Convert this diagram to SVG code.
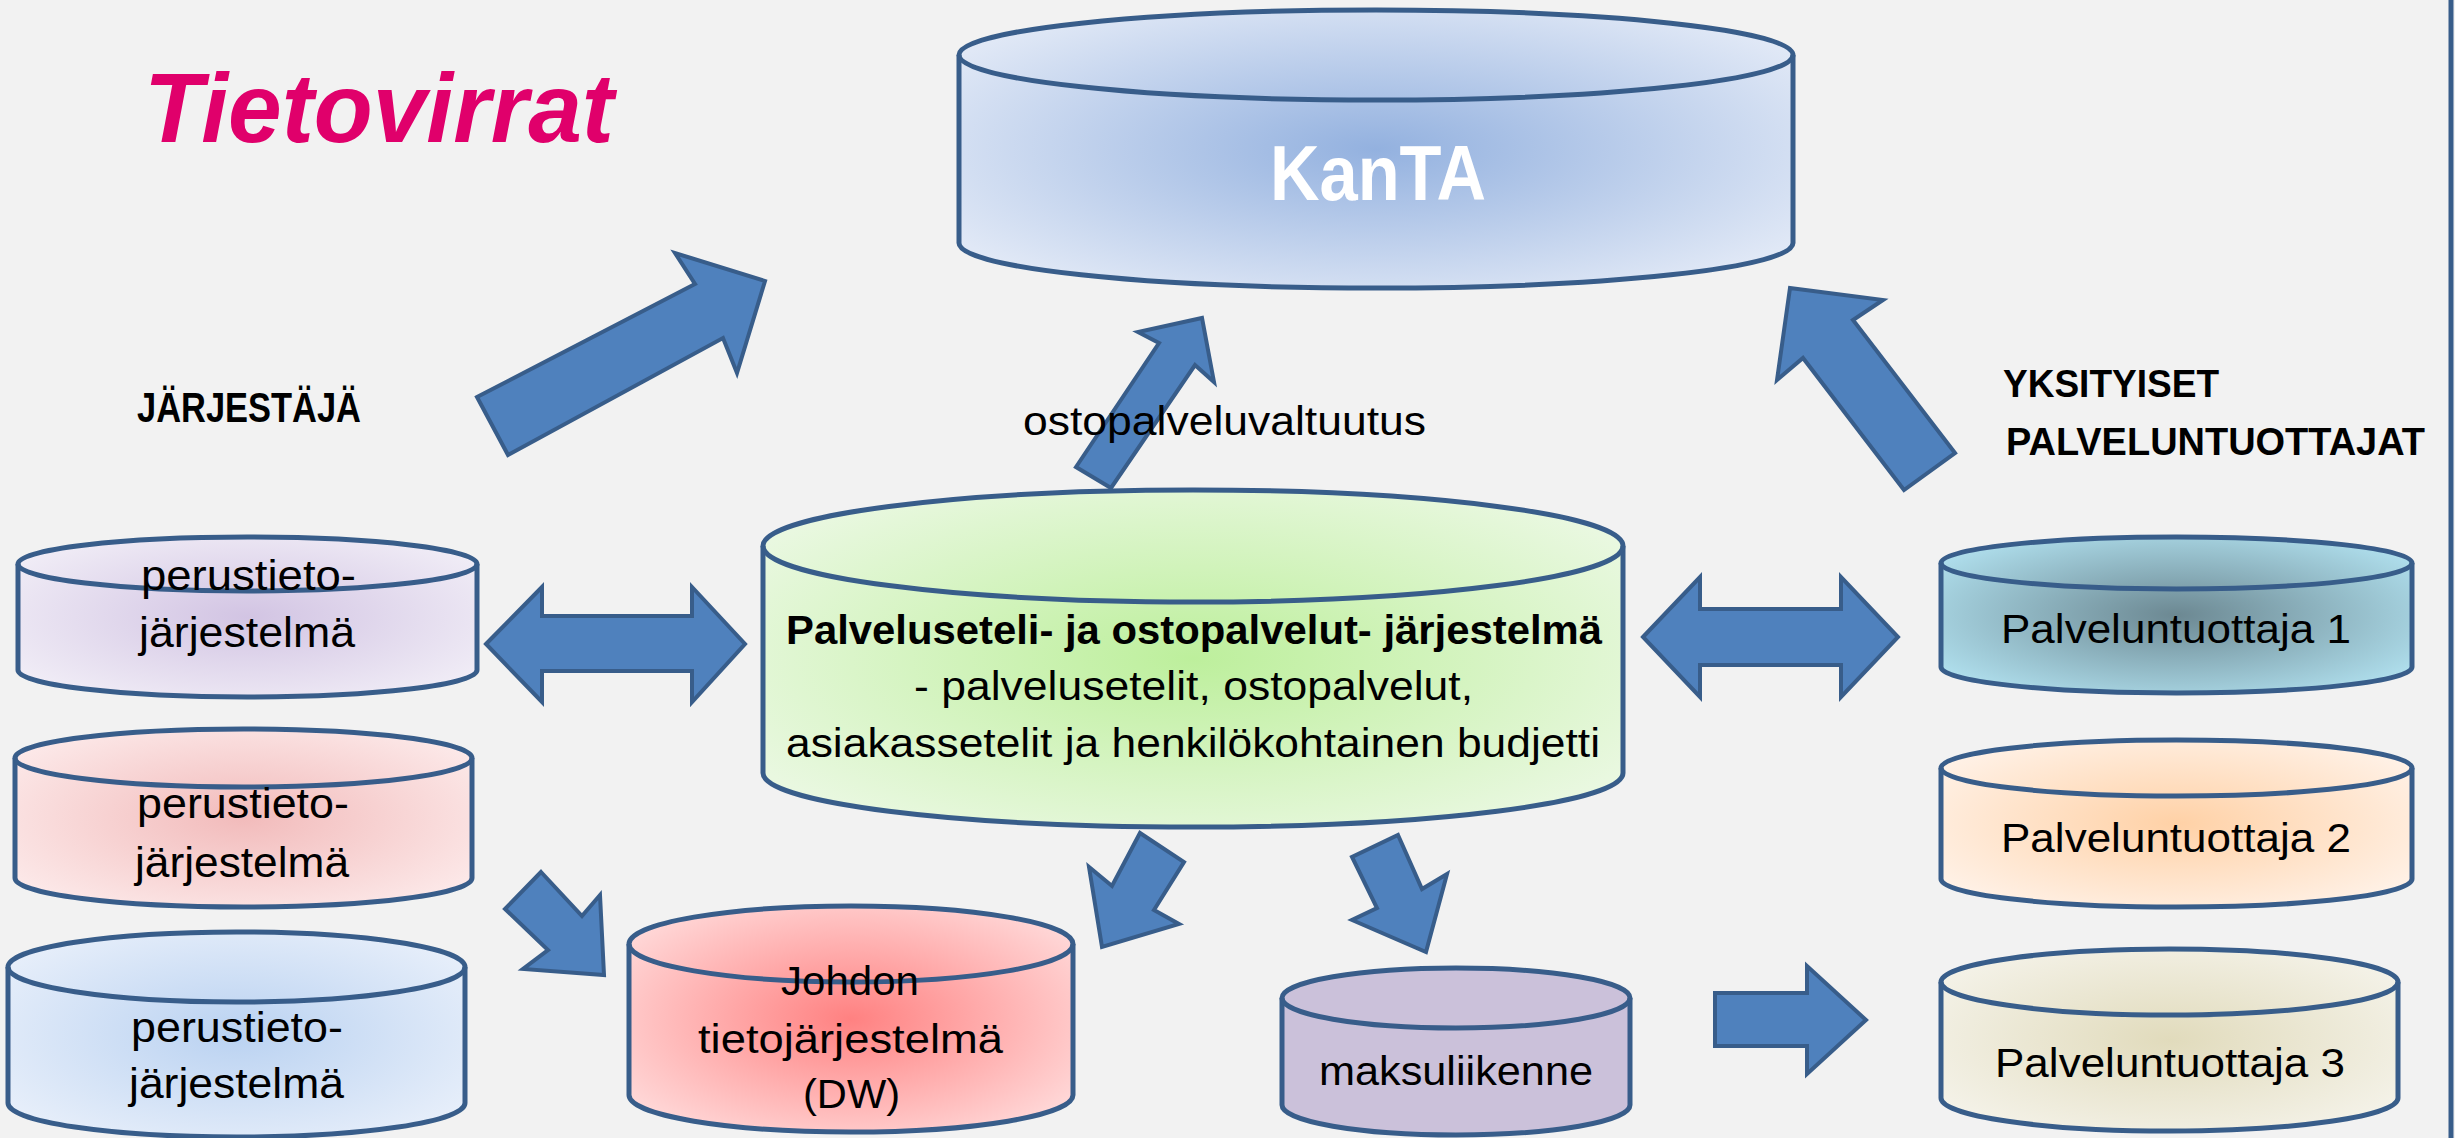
<svg xmlns="http://www.w3.org/2000/svg" width="2455" height="1138" viewBox="0 0 2455 1138">
<style>
.arr{fill:#4F81BD;stroke:#385D8A;stroke-width:4;stroke-linejoin:miter}
.cyl{stroke:#385D8A;stroke-width:5}
.edge{fill:none;stroke:#385D8A;stroke-width:5}
.t{font-family:"Liberation Sans",Arial,sans-serif;fill:#000}
.b{font-weight:bold}
</style>
<defs>
<radialGradient id="gKanta" cx="0.5" cy="0.5" r="0.6"><stop offset="0" stop-color="#93B1DF"/><stop offset="1" stop-color="#E0E8F6"/></radialGradient>
<radialGradient id="gGreen" cx="0.5" cy="0.5" r="0.6"><stop offset="0" stop-color="#BDEF9C"/><stop offset="1" stop-color="#E9F8E0"/></radialGradient>
<radialGradient id="gPurple" cx="0.5" cy="0.5" r="0.6"><stop offset="0" stop-color="#D2C4E3"/><stop offset="1" stop-color="#F0ECF6"/></radialGradient>
<radialGradient id="gPink" cx="0.5" cy="0.5" r="0.6"><stop offset="0" stop-color="#F2BBBB"/><stop offset="1" stop-color="#FCE8E8"/></radialGradient>
<radialGradient id="gBlue" cx="0.5" cy="0.5" r="0.6"><stop offset="0" stop-color="#BAD2F1"/><stop offset="1" stop-color="#E6EEFA"/></radialGradient>
<radialGradient id="gRed" cx="0.5" cy="0.5" r="0.6"><stop offset="0" stop-color="#FF8181"/><stop offset="1" stop-color="#FFD6D6"/></radialGradient>
<radialGradient id="gTeal" cx="0.5" cy="0.5" r="0.6"><stop offset="0" stop-color="#6C8892"/><stop offset="1" stop-color="#AEDDEB"/></radialGradient>
<radialGradient id="gOrange" cx="0.5" cy="0.5" r="0.6"><stop offset="0" stop-color="#FFD1A6"/><stop offset="1" stop-color="#FFF1E6"/></radialGradient>
<radialGradient id="gBeige" cx="0.5" cy="0.5" r="0.6"><stop offset="0" stop-color="#E1DBBC"/><stop offset="1" stop-color="#F4F2E8"/></radialGradient>
</defs>
<rect width="2455" height="1138" fill="#F2F2F2"/>
<line x1="2451" y1="0" x2="2451" y2="1138" stroke="#385D8A" stroke-width="5"/>

<g id="connectors">
<polygon class="arr" points="477,397 695,284 675,253 765,281 737,373 723,338 508,455"/>
<polygon class="arr" points="1076,467 1159,343 1138,332 1202,318 1214,382 1195,365 1111,488"/>
<polygon class="arr" points="1955,453 1853,320 1883,300 1790,288 1777,380 1803,358 1904,490"/>
<polygon class="arr" points="486,644 542,587 542,616 692,616 692,587 745,644 692,702 692,671 542,671 542,702"/>
<polygon class="arr" points="1643,637 1700,577 1700,609 1841,609 1841,577 1898,637 1841,697 1841,665 1700,665 1700,697"/>
<polygon class="arr" points="541,872 582,916 600,895 604,975 523,969 548,950 505,909"/>
<polygon class="arr" points="1140,833 1184,862 1154,910 1179,924 1102,947 1089,867 1112,886"/>
<polygon class="arr" points="1398,835 1422,889 1447,874 1426,952 1352,920 1377,908 1352,857"/>
<polygon class="arr" points="1715,993 1807,993 1807,966 1866,1020 1807,1074 1807,1046 1715,1046"/>
</g>

<g id="labels">
<text class="t b" x="144" y="142" font-size="98" font-style="italic" style="fill:#E0006B" textLength="470" lengthAdjust="spacingAndGlyphs">Tietovirrat</text>
<text class="t b" x="137" y="422" font-size="42" textLength="224" lengthAdjust="spacingAndGlyphs">JÄRJESTÄJÄ</text>
<text class="t b" x="2003" y="397" font-size="38" textLength="216" lengthAdjust="spacingAndGlyphs">YKSITYISET</text>
<text class="t b" x="2006" y="455" font-size="38" textLength="419" lengthAdjust="spacingAndGlyphs">PALVELUNTUOTTAJAT</text>
<text class="t" x="1023" y="435" font-size="40" textLength="403" lengthAdjust="spacingAndGlyphs">ostopalveluvaltuutus</text>
</g>

<g id="kanta">
<path class="cyl" fill="url(#gKanta)" d="M959,55 A417,45 0 0 1 1793,55 L1793,243 A417,45 0 0 1 959,243 Z"/>
<path class="edge" d="M959,55 A417,45 0 0 0 1793,55"/>
<text class="t b" x="1270" y="200" font-size="78" style="fill:#FFFFFF" textLength="216" lengthAdjust="spacingAndGlyphs">KanTA</text>
</g>

<g id="palveluseteli">
<path class="cyl" fill="url(#gGreen)" d="M763,546 A430,56 0 0 1 1623,546 L1623,773 A430,54 0 0 1 763,773 Z"/>
<path class="edge" d="M763,546 A430,56 0 0 0 1623,546"/>
<text class="t b" x="786" y="644" font-size="41" textLength="816" lengthAdjust="spacingAndGlyphs">Palveluseteli- ja ostopalvelut- järjestelmä</text>
<text class="t" x="914" y="700" font-size="41" textLength="559" lengthAdjust="spacingAndGlyphs">- palvelusetelit, ostopalvelut,</text>
<text class="t" x="786" y="757" font-size="41" textLength="814" lengthAdjust="spacingAndGlyphs">asiakassetelit ja henkilökohtainen budjetti</text>
</g>

<g id="perus1">
<path class="cyl" fill="url(#gPurple)" d="M18,564 A229.5,27 0 0 1 477,564 L477,670 A229.5,27 0 0 1 18,670 Z"/>
<path class="edge" d="M18,564 A229.5,27 0 0 0 477,564"/>
<text class="t" x="141" y="590" font-size="43" textLength="215" lengthAdjust="spacingAndGlyphs">perustieto-</text>
<text class="t" x="139" y="647" font-size="43" textLength="216" lengthAdjust="spacingAndGlyphs">järjestelmä</text>
</g>

<g id="perus2">
<path class="cyl" fill="url(#gPink)" d="M15,758 A228.5,29 0 0 1 472,758 L472,878 A228.5,29 0 0 1 15,878 Z"/>
<path class="edge" d="M15,758 A228.5,29 0 0 0 472,758"/>
<text class="t" x="137" y="818" font-size="43" textLength="212" lengthAdjust="spacingAndGlyphs">perustieto-</text>
<text class="t" x="135" y="877" font-size="43" textLength="214" lengthAdjust="spacingAndGlyphs">järjestelmä</text>
</g>

<g id="perus3">
<path class="cyl" fill="url(#gBlue)" d="M8,967 A228.5,35 0 0 1 465,967 L465,1103 A228.5,34 0 0 1 8,1103 Z"/>
<path class="edge" d="M8,967 A228.5,35 0 0 0 465,967"/>
<text class="t" x="131" y="1042" font-size="43" textLength="212" lengthAdjust="spacingAndGlyphs">perustieto-</text>
<text class="t" x="129" y="1098" font-size="43" textLength="215" lengthAdjust="spacingAndGlyphs">järjestelmä</text>
</g>

<g id="johdon">
<path class="cyl" fill="url(#gRed)" d="M629,944 A222,38 0 0 1 1073,944 L1073,1095 A222,37 0 0 1 629,1095 Z"/>
<path class="edge" d="M629,944 A222,38 0 0 0 1073,944"/>
<text class="t" x="781" y="995" font-size="40" textLength="138" lengthAdjust="spacingAndGlyphs">Johdon</text>
<text class="t" x="698" y="1053" font-size="40" textLength="305" lengthAdjust="spacingAndGlyphs">tietojärjestelmä</text>
<text class="t" x="803" y="1108" font-size="40" textLength="97" lengthAdjust="spacingAndGlyphs">(DW)</text>
</g>

<g id="maksuliikenne">
<path class="cyl" fill="#CBC1DA" d="M1282,998 A174,30 0 0 1 1630,998 L1630,1105 A174,30 0 0 1 1282,1105 Z"/>
<path class="edge" d="M1282,998 A174,30 0 0 0 1630,998"/>
<text class="t" x="1319" y="1085" font-size="40" textLength="274" lengthAdjust="spacingAndGlyphs">maksuliikenne</text>
</g>

<g id="tuottaja1">
<path class="cyl" fill="url(#gTeal)" d="M1941,563 A235.5,26 0 0 1 2412,563 L2412,667 A235.5,26 0 0 1 1941,667 Z"/>
<path class="edge" d="M1941,563 A235.5,26 0 0 0 2412,563"/>
<text class="t" x="2001" y="643" font-size="41" textLength="350" lengthAdjust="spacingAndGlyphs">Palveluntuottaja 1</text>
</g>

<g id="tuottaja2">
<path class="cyl" fill="url(#gOrange)" d="M1941,768 A235.5,28 0 0 1 2412,768 L2412,879 A235.5,28 0 0 1 1941,879 Z"/>
<path class="edge" d="M1941,768 A235.5,28 0 0 0 2412,768"/>
<text class="t" x="2001" y="852" font-size="41" textLength="350" lengthAdjust="spacingAndGlyphs">Palveluntuottaja 2</text>
</g>

<g id="tuottaja3">
<path class="cyl" fill="url(#gBeige)" d="M1941,982 A228.5,33 0 0 1 2398,982 L2398,1098 A228.5,33 0 0 1 1941,1098 Z"/>
<path class="edge" d="M1941,982 A228.5,33 0 0 0 2398,982"/>
<text class="t" x="1995" y="1077" font-size="41" textLength="350" lengthAdjust="spacingAndGlyphs">Palveluntuottaja 3</text>
</g>
</svg>
